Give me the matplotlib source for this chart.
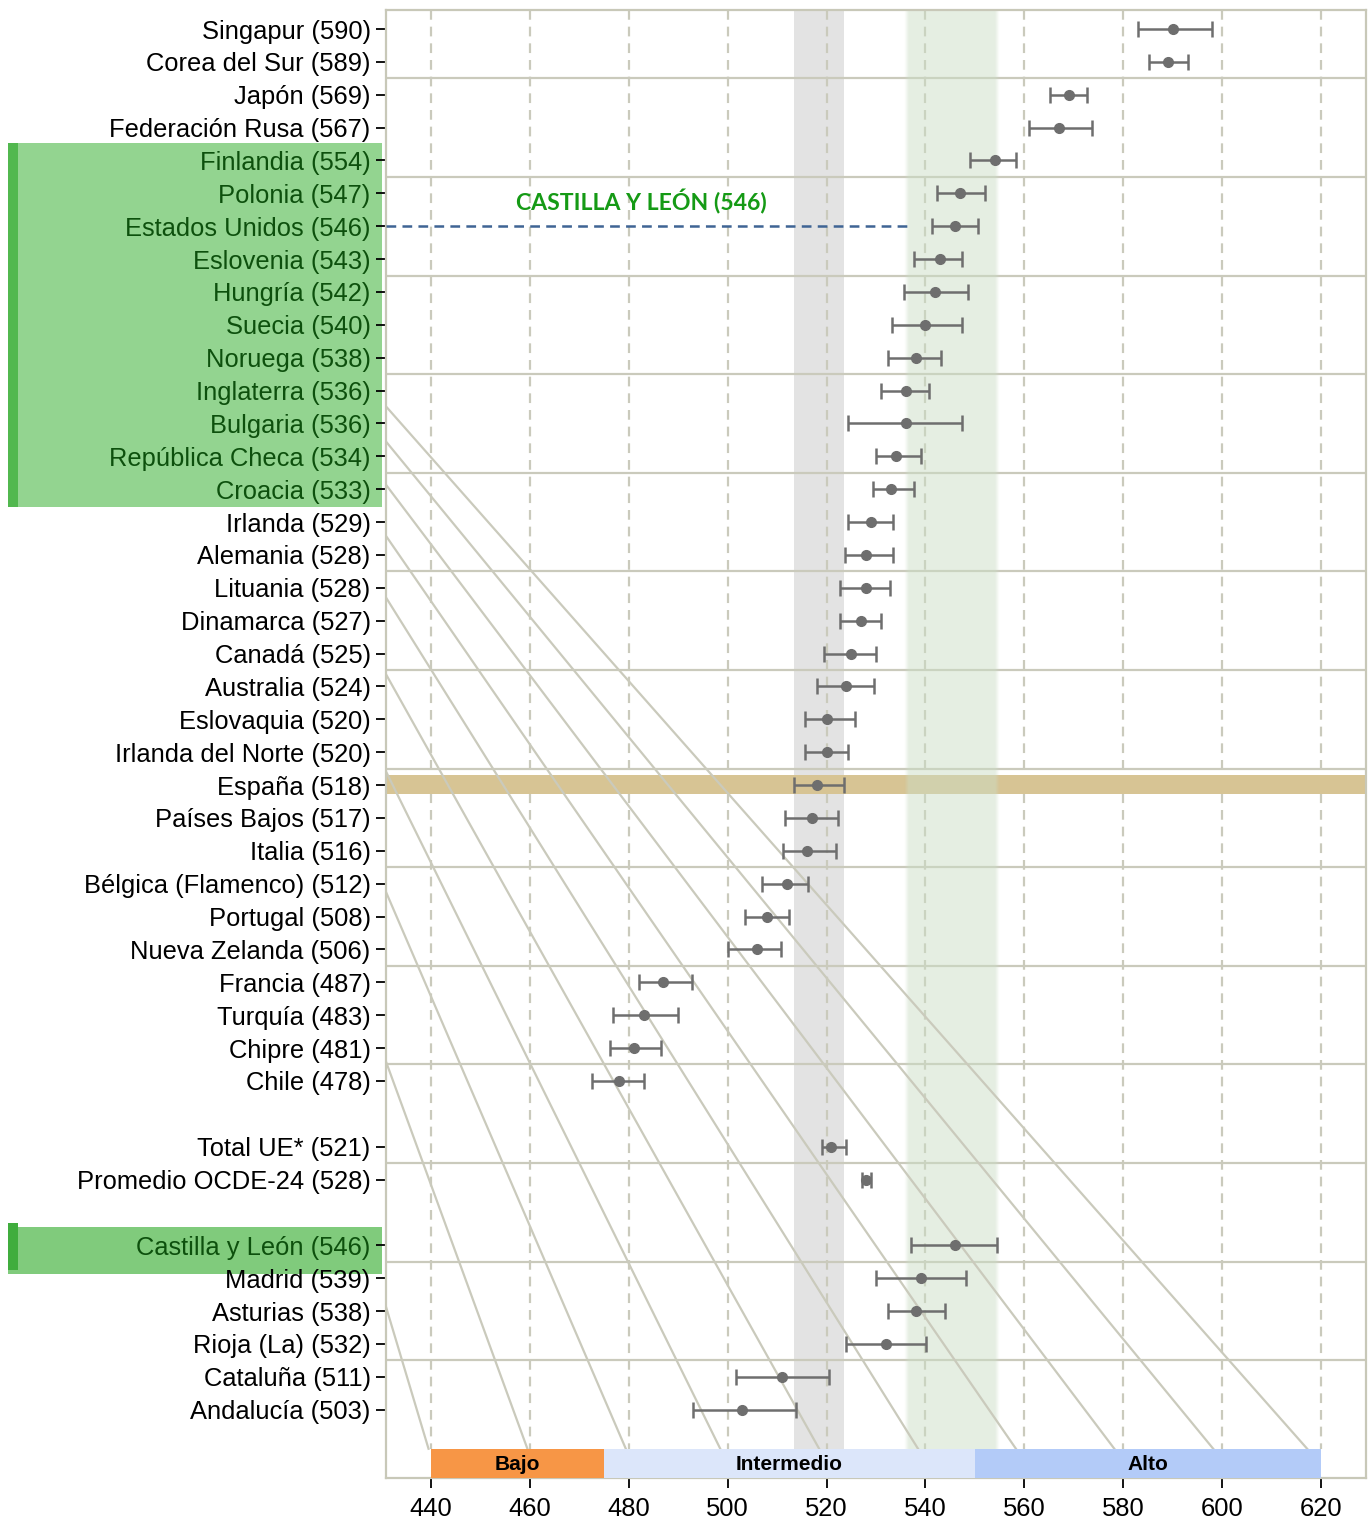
import matplotlib
matplotlib.use('Agg')
import matplotlib.pyplot as plt
import numpy as np
from matplotlib.patches import Rectangle

plt.rcParams['font.family'] = ['Liberation Sans', 'DejaVu Sans']
plt.rcParams['lines.scale_dashes'] = False

# ---------------- data ----------------
countries = ["Singapur", "Corea del Sur", "Japón", "Federación Rusa", "Finlandia", "Polonia",
             "Estados Unidos", "Eslovenia", "Hungría", "Suecia", "Noruega", "Inglaterra",
             "Bulgaria", "República Checa", "Croacia", "Irlanda", "Alemania", "Lituania",
             "Dinamarca", "Canadá", "Australia", "Eslovaquia", "Irlanda del Norte", "España",
             "Países Bajos", "Italia", "Bélgica (Flamenco)", "Portugal", "Nueva Zelanda",
             "Francia", "Turquía", "Chipre", "Chile"]
country_scores = [590, 589, 569, 567, 554, 547, 546, 543, 542, 540, 538, 536, 536, 534, 533,
                  529, 528, 528, 527, 525, 524, 520, 520, 518, 517, 516, 512, 508, 506,
                  487, 483, 481, 478]
country_low = [583.0, 585.3, 565.2, 561.0, 549.0, 542.4, 541.4, 537.6, 535.7, 533.2, 532.4,
               531.0, 524.3, 530.0, 529.4, 524.3, 523.7, 522.7, 522.7, 519.5, 518.1, 515.6,
               515.6, 513.4, 511.6, 511.2, 507.0, 503.5, 500.1, 482.1, 476.8, 476.2, 472.6]
country_high = [597.9, 593.1, 572.6, 573.6, 558.3, 552.1, 550.6, 547.4, 548.6, 547.4, 543.2,
                540.7, 547.4, 539.1, 537.7, 533.4, 533.4, 532.8, 531.0, 530.0, 529.6, 525.8,
                524.3, 523.6, 522.3, 521.9, 516.3, 512.4, 510.8, 492.8, 490.0, 486.5, 483.1]

ref_names = ["Total UE*", "Promedio OCDE-24"]
ref_scores = [521, 528]
ref_low = [519.1, 527.2]
ref_high = [523.9, 529.0]

region_names = ["Castilla y León", "Madrid", "Asturias", "Rioja (La)", "Cataluña", "Andalucía"]
region_scores = [546, 539, 538, 532, 511, 503]
region_low = [537.1, 530.0, 532.4, 523.9, 501.7, 493.0]
region_high = [554.5, 548.2, 544.0, 540.1, 520.5, 513.8]

highlight_countries = ["Finlandia", "Polonia", "Estados Unidos", "Eslovenia", "Hungría", "Suecia",
                       "Noruega", "Inglaterra", "Bulgaria", "República Checa", "Croacia"]

level_names = ["Bajo", "Intermedio", "Alto"]
level_edges = [440, 475, 550, 620]
level_colors = ["#f79646", "#dce6fa", "#b3cbf8"]

x_ticks = [440, 460, 480, 500, 520, 540, 560, 580, 600, 620]

# ---------------- layout ----------------
W, H = 1371, 1519
fig = plt.figure(figsize=(W / 100, H / 100), dpi=100)
ax = fig.add_axes([386 / W, 1 - 1478 / H, (1366 - 386) / W, (1478 - 10) / H])
XMIN, XMAX = 430.9, 629.1
YTOP, YBOT = -0.578, 44.08
BAND_TOP = 43.19
ax.set_xlim(XMIN, XMAX)
ax.set_ylim(YBOT, YTOP)

rows_c = list(range(len(countries)))
rows_r = [len(countries) + 1 + i for i in range(len(ref_names))]
rows_g = [rows_r[-1] + 2 + i for i in range(len(region_names))]

names = countries + ref_names + region_names
scores = country_scores + ref_scores + region_scores
lows = country_low + ref_low + region_low
highs = country_high + ref_high + region_high
rows = rows_c + rows_r + rows_g
labels = [f"{n} ({s})" for n, s in zip(names, scores)]

grid_c = '#cacabc'

# Spain CI band (gray)
i_es = countries.index("España")
ax.axvspan(country_low[i_es], country_high[i_es], color='#e3e3e3', lw=0, zorder=0)

# vertical dashed grid
ax.vlines(x_ticks, YTOP, BAND_TOP, colors=grid_c, linestyles=(0, (7, 5)), lw=1.6, zorder=1)

# horizontal separators
ax.hlines(np.arange(1.5, rows[-1], 3), XMIN, XMAX, colors=grid_c, lw=1.6, zorder=1)

# Spain highlight row
ax.axhspan(rows_c[i_es] - 0.31, rows_c[i_es] + 0.27, color='#d7c494', lw=0, zorder=1.5)

# Castilla y León CI band (soft green)
cl_lo, cl_hi = region_low[0], region_high[0]
n = 200
xs = np.linspace(cl_lo - 1.5, cl_hi + 1.5, n)
edge = 0.9
alpha = np.clip(np.minimum(xs - (cl_lo - 1.0), (cl_hi + 0.0) - xs) / edge + 0.5, 0, 1)
rgba = np.zeros((1, n, 4))
rgba[..., 0] = 0.80
rgba[..., 1] = 0.87
rgba[..., 2] = 0.78
rgba[..., 3] = alpha * 0.5
ax.imshow(rgba, extent=(xs[0], xs[-1], BAND_TOP, YTOP), aspect='auto',
          interpolation='bilinear', zorder=2)

# decorative perspective lines
vp = (348.4, -2.56)
fan_ends = [439.5, 459.5, 479.4, 498.5, 518.5, 538.5, 558.3, 578.2, 598.2, 617.2]
for xe in fan_ends:
    ax.plot([vp[0], xe], [vp[1], BAND_TOP], color=grid_c, lw=1.6, zorder=2.5)

# dashed reference line at Castilla y León score
i_us = countries.index("Estados Unidos")
ax.plot([XMIN, cl_lo], [rows_c[i_us], rows_c[i_us]], color='#3f6494', lw=1.8,
        dashes=(7, 4.5), zorder=3, solid_capstyle='butt')
ax.text(482.5, rows_c[i_us] - 0.75, f"CASTILLA Y LEÓN ({region_scores[0]})", color='#159a15',
        fontsize=16.6, fontweight='bold', family=['Lato', 'DejaVu Sans'],
        ha='center', va='center', zorder=4)

# error bars
means = np.array(scores, dtype=float)
ax.errorbar(means, rows, xerr=[means - np.array(lows), np.array(highs) - means],
            fmt='o', color='#6e6e6e', ms=7, lw=1.8, capsize=6, capthick=1.8, zorder=6)

# performance level band
for i, nm in enumerate(level_names):
    x0, x1 = level_edges[i], level_edges[i + 1]
    ax.add_patch(Rectangle((x0, BAND_TOP), x1 - x0, YBOT - BAND_TOP,
                           facecolor=level_colors[i], lw=0, zorder=7))
    ax.text((x0 + x1) / 2, (BAND_TOP + YBOT) / 2 + 0.02, nm, ha='center', va='center',
            fontsize=15, fontweight='bold', color='black', zorder=8)

# axes styling
ax.set_xticks(x_ticks)
ax.set_xticklabels([str(t) for t in x_ticks])
ax.set_yticks(rows)
ax.set_yticklabels(labels)
ax.tick_params(axis='both', length=7, width=1.3, color='black', labelsize=18.4)
ax.tick_params(axis='y', pad=4)
ax.tick_params(axis='x', pad=7)
for sp in ax.spines.values():
    sp.set_color('#c8c8b8')
    sp.set_linewidth(1.6)

hl_color = '#0d500d'
for lab, nm in zip(ax.get_yticklabels(), names):
    if nm in highlight_countries or nm == region_names[0]:
        lab.set_color(hl_color)

# label highlight boxes (figure coordinates)
def fig_rect(x0, y0, x1, y1, color):
    fig.add_artist(Rectangle((x0 / W, 1 - y1 / H), (x1 - x0) / W, (y1 - y0) / H,
                             transform=fig.transFigure, facecolor=color, lw=0, zorder=-1))

fig_rect(8, 143, 382, 507, '#93d490')
fig_rect(8, 143, 18, 507, '#52b84f')
fig_rect(8, 1227, 382, 1274, '#80cb7c')
fig_rect(8, 1223, 18, 1270, '#40ad3d')

fig.savefig('out.png', dpi=100)
